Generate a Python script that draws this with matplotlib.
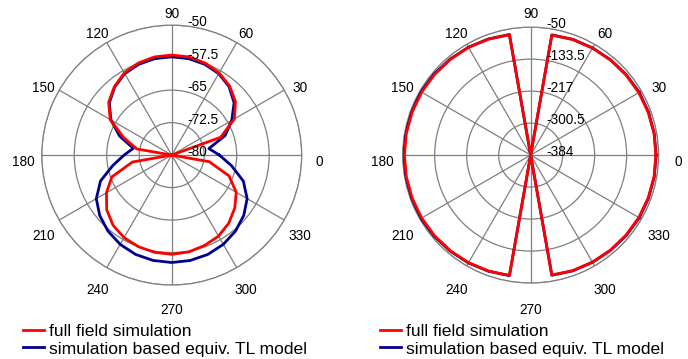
import numpy as np
import matplotlib.pyplot as plt
from matplotlib.transforms import offset_copy

plt.rcParams['font.family'] = ['Liberation Sans', 'DejaVu Sans']

angles = np.arange(0, 360, 10)

# left: level in dB, every 10 degrees starting at 0
left_full = [-80, -80, -68.0, -63.3, -60.8, -59.2, -58.1, -57.4, -57.0, -56.9,
             -57.0, -57.4, -58.1, -59.4, -61.0, -63.6, -68.2, -71.8, -80, -70.8,
             -65.3, -62.6, -60.4, -58.9, -58.0, -57.5, -57.2, -57.1, -57.3, -57.8,
             -58.4, -59.5, -61.0, -62.8, -65.9, -71.2]
left_tl = [-69.0, -71.3, -66.9, -64.0, -61.2, -59.4, -58.3, -57.7, -57.4, -57.3,
           -57.4, -57.7, -58.3, -59.5, -61.2, -63.8, -67.2, -71.0, -69.0, -66.2,
           -62.5, -59.9, -58.3, -57.1, -56.2, -55.6, -55.3, -55.2, -55.3, -55.6,
           -56.2, -57.1, -58.3, -59.9, -62.4, -66.0]

# right
right_full = [-57, -57, -57.5, -58, -59, -60, -61.5, -63, -66, -384,
              -65, -62, -59.5, -58, -56.5, -55.5, -55, -54.5, -54.5, -54.5,
              -55, -55.5, -56.5, -58, -59.5, -62, -65, -384, -66, -63,
              -61.5, -60, -59, -58, -57.5, -57]
right_tl = [-56.5, -56.5, -56.5, -56.5, -58, -59.5, -61, -62.5, -65.5, -384,
            -64.5, -61.5, -59, -57, -55, -53.5, -53.5, -53, -53, -53,
            -53.5, -53.5, -55, -57, -59, -61.5, -64.5, -384, -65.5, -62.5,
            -61, -59.5, -58, -56.5, -56.5, -56.5]

left_rings = [-80, -72.5, -65, -57.5, -50]
right_rings = [-384, -300.5, -217, -133.5, -50]
theta_labels = list(range(0, 360, 30))

fig = plt.figure(figsize=(6.88, 3.59), dpi=100)

def draw(rect, full, tl, rings, radius_px, legend_x):
    ax = fig.add_axes(rect, projection='polar')
    th = np.deg2rad(np.append(angles, angles[0]))
    l1, = ax.plot(th, np.append(full, full[0]), color='#ff0000', lw=2,
                  label='full field simulation', zorder=4)
    l2, = ax.plot(th, np.append(tl, tl[0]), color='#000090', lw=2,
                  label='simulation based equiv. TL model', zorder=3)
    ax.set_ylim(rings[0], rings[-1])
    ax.set_yticks(rings)
    ax.set_yticklabels([])
    ax.set_xticks(np.deg2rad(theta_labels))
    ax.set_xticklabels([])
    ax.grid(True, color='#7f7f7f', lw=0.9)
    ax.spines['polar'].set_color('#7f7f7f')
    ax.spines['polar'].set_linewidth(0.9)

    tr = offset_copy(ax.transData, fig=fig, x=16, y=3, units='dots')
    for r in rings:
        ax.text(np.pi / 2, r, f'{r:g}', transform=tr, ha='left', va='center',
                fontsize=9.8, zorder=6)

    rl = 148.0 / (2 * radius_px)
    dy = 7.0 / (2 * radius_px)
    for a in theta_labels:
        t = np.deg2rad(a)
        ax.text(0.5 + rl * np.cos(t), 0.5 + rl * np.sin(t) - dy, str(a),
                transform=ax.transAxes, ha='center', va='center', fontsize=9.8)

    fig.legend(handles=[l1, l2], loc='upper left',
               bbox_to_anchor=(legend_x, 0.099), frameon=False,
               fontsize=12.6, handlelength=1.2, handletextpad=0.25,
               labelspacing=0.15, borderpad=0, borderaxespad=0)
    return ax

draw([0.0606, 0.206, 0.378, 0.724], left_full, left_tl, left_rings, 130, 0.034)
draw([0.5853, 0.2115, 0.372, 0.713], right_full, right_tl, right_rings, 128, 0.553)

fig.savefig('out.png', dpi=100)
